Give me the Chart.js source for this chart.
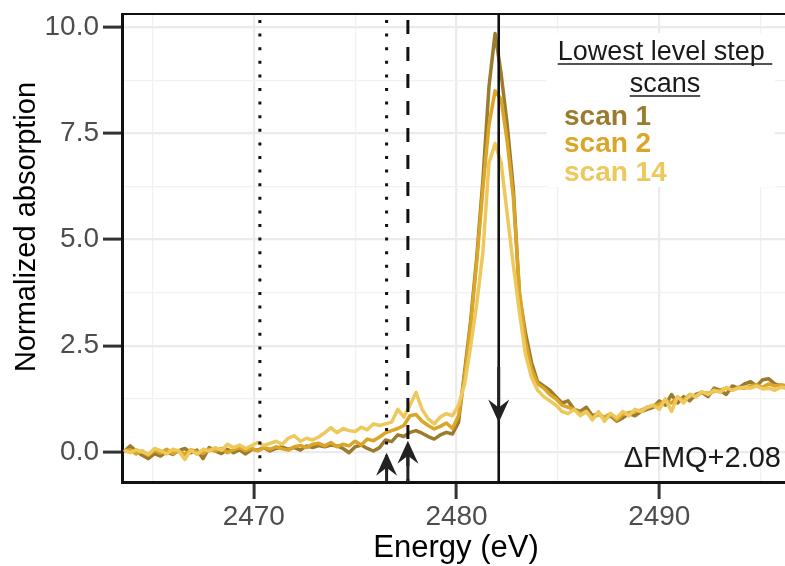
<!DOCTYPE html>
<html>
<head>
<meta charset="utf-8">
<script src="https://cdn.jsdelivr.net/npm/chart.js"></script>
<style>
  html, body { margin: 0; padding: 0; background: #fff; }
  canvas { display: block; }
</style>
</head>
<body>
<canvas id="xanes" width="785" height="566"></canvas>
<script>
// energy grid (eV)
const energy = [
  2463.6, 2463.9, 2464.2, 2464.5, 2464.8, 2465.1, 2465.4, 2465.7, 2466.0, 2466.3,
  2466.6, 2466.9, 2467.2, 2467.5, 2467.8, 2468.1, 2468.4, 2468.7, 2469.0, 2469.3,
  2469.6, 2469.9, 2470.2, 2470.5, 2470.8, 2471.1, 2471.4, 2471.7, 2472.0, 2472.3,
  2472.6, 2472.9, 2473.2, 2473.5, 2473.8, 2474.1, 2474.4, 2474.7, 2475.0, 2475.3,
  2475.6, 2475.9, 2476.2, 2476.5, 2476.8, 2477.1, 2477.4, 2477.7, 2478.0, 2478.3,
  2478.6, 2478.9, 2479.2, 2479.5, 2479.8, 2480.1, 2480.4, 2480.7, 2481.0, 2481.3,
  2481.6, 2481.9, 2482.2, 2482.5, 2482.8, 2483.1, 2483.4, 2483.7, 2484.0, 2484.3,
  2484.6, 2484.9, 2485.2, 2485.5, 2485.8, 2486.1, 2486.4, 2486.7, 2487.0, 2487.3,
  2487.6, 2487.9, 2488.2, 2488.5, 2488.8, 2489.1, 2489.4, 2489.7, 2490.0, 2490.3,
  2490.6, 2490.9, 2491.2, 2491.5, 2491.8, 2492.1, 2492.4, 2492.7, 2493.0, 2493.3,
  2493.6, 2493.9, 2494.2, 2494.5, 2494.8, 2495.1, 2495.4, 2495.7, 2496.0, 2496.3
];

const scan1 = [
  0.0, 0.14, 0.02, -0.08, -0.16, -0.04, -0.1, 0.0, -0.06, 0.03,
  0.08, -0.02, 0.04, -0.16, 0.1, 0.02, -0.04, 0.06, -0.02, 0.05,
  -0.05, 0.06, 0.04, 0.1, 0.02, 0.08, 0.12, 0.06, 0.1, 0.04,
  0.14, 0.1, 0.15, 0.12, 0.16, 0.14, 0.08, -0.02, 0.12, 0.16,
  0.08, 0.02, 0.1, 0.28, 0.24, 0.4, 0.36, 0.46, 0.5, 0.44,
  0.36, 0.3, 0.4, 0.46, 0.42, 0.7, 1.9, 3.1, 4.6, 6.4,
  8.6, 9.85, 8.9, 7.7, 6.2, 3.7, 2.8, 2.1, 1.65, 1.55,
  1.45, 1.3, 1.15, 1.2, 1.0, 0.95, 1.05, 0.85, 0.9, 0.78,
  0.85, 0.72, 0.8, 0.9, 0.85, 0.95, 1.0, 1.05, 1.2, 1.1,
  1.35, 1.15, 1.3, 1.2, 1.35, 1.4, 1.3, 1.5, 1.45, 1.35,
  1.55, 1.5, 1.6, 1.65, 1.55, 1.7, 1.72, 1.6, 1.55, 1.5
];

const scan2 = [
  0.02, 0.05, -0.05, 0.02, -0.08, 0.04, -0.03, 0.06, -0.04, 0.02,
  -0.06, 0.05, 0.0, -0.04, 0.06, 0.02, 0.08, -0.02, 0.05, 0.1,
  0.03, 0.08, 0.02, 0.1, 0.06, 0.12, 0.07, 0.04, 0.12, 0.15,
  0.1, 0.18, 0.2, 0.14, 0.22, 0.12, 0.18, 0.14, 0.25, 0.16,
  0.3, 0.26, 0.35, 0.45, 0.5, 0.55, 0.62, 0.85, 0.88, 0.72,
  0.62, 0.54, 0.6, 0.68, 0.55, 0.85, 1.8, 3.0, 4.5, 6.2,
  7.7, 8.5, 8.3, 7.3, 6.0, 3.8, 2.6, 1.95, 1.6, 1.5,
  1.35, 1.25, 1.1, 1.05, 1.0, 0.9, 0.95, 0.8, 0.88, 0.82,
  0.9, 0.75, 0.88, 0.92, 0.95, 0.98, 1.05, 1.08, 1.12, 1.2,
  1.15, 1.28, 1.22, 1.35, 1.3, 1.4, 1.38, 1.42, 1.45, 1.5,
  1.45, 1.52, 1.5, 1.55, 1.58, 1.52, 1.6, 1.55, 1.58, 1.55
];

const scan14 = [
  0.04, -0.02, 0.05, 0.0, -0.06, 0.08, 0.03, -0.05, 0.06, 0.02,
  -0.18, 0.04, -0.06, 0.06, 0.02, 0.1, 0.04, 0.18, 0.1, 0.16,
  0.08, 0.15, 0.22, 0.15, 0.2, 0.25, 0.18, 0.32, 0.38, 0.25,
  0.32, 0.28, 0.35, 0.45, 0.57, 0.45, 0.55, 0.5, 0.48, 0.58,
  0.52, 0.66, 0.62, 0.66, 0.7, 1.0, 0.82, 1.1, 1.4, 1.0,
  0.78, 0.66, 0.82, 0.9, 0.85, 1.1, 1.6, 2.5, 3.5, 4.7,
  6.8, 7.26, 6.8, 5.6, 4.4, 3.3, 2.3, 1.75, 1.45, 1.3,
  1.2, 1.1, 0.95, 0.9, 1.0, 0.85, 0.95, 0.75, 0.95, 0.72,
  0.9, 0.8, 0.95, 0.85, 1.0, 0.95, 1.05, 1.1, 1.0, 1.25,
  0.95, 1.3, 1.15, 1.35, 1.3, 1.42, 1.35, 1.45, 1.4, 1.52,
  1.45, 1.5, 1.52, 1.5, 1.55, 1.48, 1.5, 1.45, 1.52, 1.5
];

const seriesNames = ["scan 1", "scan 2", "scan 14"];
const seriesColors = ["#9b7b2d", "#dba528", "#eec85a"];

const xMajor = [2470, 2480, 2490];
const xMinor = [2465, 2475, 2485, 2495];
const yMajor = [0, 2.5, 5, 7.5, 10];
const yMinor = [1.25, 3.75, 6.25, 8.75];

// vertical markers (eV): dotted, dotted, dashed, solid
const markerEnergy = [2470.3, 2476.55, 2477.6, 2482.08];
// arrows: energy, start value, end (tip) value
const arrowEnergy = [2476.55, 2477.6, 2482.08];
const arrowFrom = [-0.71, -0.71, 2.0];
const arrowTo = [-0.02, 0.26, 0.69];

const legendTitle = ["Lowest level step ", "scans"];
const panelLabel = "\u0394FMQ+2.08";

const FONT = "'Liberation Sans', Arial, Helvetica, sans-serif";
Chart.defaults.font.family = FONT;

const isIn = (arr, v) => arr.some((a) => Math.abs(a - v) < 1e-6);

const overlay = {
  id: "overlay",
  beforeDatasetsDraw(chart) {
    const ctx = chart.ctx;
    ctx.save();
    ctx.fillStyle = "#ffffff";
    ctx.fillRect(547, 33, 228, 154); // legend box
    ctx.restore();
  },
  afterDatasetsDraw(chart) {
    const { ctx, chartArea: a, scales } = chart;
    const x = scales.x, y = scales.y;
    ctx.save();
    ctx.beginPath();
    ctx.rect(a.left, a.top, a.right - a.left, a.bottom - a.top);
    ctx.clip();

    const dashes = [[3, 10.6], [3, 10.6], [14, 13], []];
    const widths = [3, 3, 3, 2.6];
    markerEnergy.forEach((e, i) => {
      const px = x.getPixelForValue(e);
      ctx.beginPath();
      ctx.strokeStyle = "#111111";
      ctx.lineWidth = widths[i];
      ctx.lineCap = "butt";
      ctx.setLineDash(dashes[i]);
      ctx.lineDashOffset = -6;
      ctx.moveTo(px, a.top);
      ctx.lineTo(px, a.bottom);
      ctx.stroke();
    });
    ctx.setLineDash([]);

    // arrows
    arrowEnergy.forEach((e, i) => {
      const px = x.getPixelForValue(e);
      const y0 = y.getPixelForValue(arrowFrom[i]);
      const y1 = y.getPixelForValue(arrowTo[i]);
      const dir = y1 < y0 ? -1 : 1; // -1 = pointing up
      const len = 23, half = 10.5, notch = 15;
      ctx.strokeStyle = "#222222";
      ctx.fillStyle = "#222222";
      ctx.lineWidth = 3;
      ctx.beginPath();
      ctx.moveTo(px, y0);
      ctx.lineTo(px, y1 - dir * notch);
      ctx.stroke();
      ctx.beginPath();
      ctx.moveTo(px, y1);
      ctx.lineTo(px - half, y1 - dir * len);
      ctx.lineTo(px, y1 - dir * notch);
      ctx.lineTo(px + half, y1 - dir * len);
      ctx.closePath();
      ctx.fill();
    });
    ctx.restore();

    // legend
    ctx.save();
    ctx.fillStyle = "#1a1a1a";
    ctx.strokeStyle = "#1a1a1a";
    ctx.font = "27px " + FONT;
    ctx.textAlign = "center";
    ctx.textBaseline = "alphabetic";
    const cx = 665;
    const baselines = [60, 92];
    legendTitle.forEach((t, i) => {
      ctx.fillText(t, cx, baselines[i]);
      const w = ctx.measureText(t).width;
      ctx.lineWidth = 1.6;
      ctx.beginPath();
      ctx.moveTo(cx - w / 2, baselines[i] + 4);
      ctx.lineTo(cx + w / 2, baselines[i] + 4);
      ctx.stroke();
    });
    ctx.font = "bold 28px " + FONT;
    ctx.textAlign = "left";
    const entryBase = [125, 152, 181];
    seriesNames.forEach((n, i) => {
      ctx.fillStyle = seriesColors[i];
      ctx.fillText(n, 564, entryBase[i]);
    });

    // panel annotation
    ctx.fillStyle = "#1a1a1a";
    ctx.font = "29px " + FONT;
    ctx.textAlign = "right";
    ctx.fillText(panelLabel, 781, 467);
    ctx.restore();
  },
  afterDraw(chart) {
    const { ctx, chartArea: a } = chart;
    ctx.save();
    // top panel border
    ctx.strokeStyle = "#111111";
    ctx.lineWidth = 2;
    ctx.beginPath();
    ctx.moveTo(a.left, a.top);
    ctx.lineTo(a.right, a.top);
    ctx.stroke();
    // axis titles
    ctx.fillStyle = "#000000";
    ctx.font = "31px " + FONT;
    ctx.textAlign = "center";
    ctx.textBaseline = "alphabetic";
    ctx.fillText("Energy (eV)", 456, 557);
    ctx.font = "29px " + FONT;
    ctx.translate(35, 227);
    ctx.rotate(-Math.PI / 2);
    ctx.fillText("Normalized absorption", 0, 0);
    ctx.restore();
  }
};

const datasets = [scan1, scan2, scan14].map((vals, i) => ({
  label: seriesNames[i],
  data: energy.map((e, k) => ({ x: e, y: vals[k] })),
  borderColor: seriesColors[i],
  borderWidth: 3.5,
  pointRadius: 0,
  tension: 0,
  borderJoinStyle: "round",
  order: 3 - i
}));

const gridStyle = (major) => ({
  color: (c) => (c.tick && isIn(major, c.tick.value) ? "#ebebeb" : "#f1f1f1"),
  lineWidth: (c) => (c.tick && isIn(major, c.tick.value) ? 2.2 : 1.3),
  tickColor: (c) => (c.tick && isIn(major, c.tick.value) ? "#333333" : "rgba(0,0,0,0)"),
  tickWidth: 3
});

new Chart(document.getElementById("xanes"), {
  type: "line",
  data: { datasets },
  plugins: [overlay],
  options: {
    responsive: false,
    animation: false,
    devicePixelRatio: 1,
    layout: { padding: { top: 14, right: 0, left: 0, bottom: 0 } },
    plugins: {
      legend: { display: false },
      tooltip: { enabled: false }
    },
    scales: {
      x: {
        type: "linear",
        min: 2463.5,
        max: 2496.2,
        afterBuildTicks: (s) => {
          s.ticks = [...xMajor, ...xMinor].sort((p, q) => p - q).map((v) => ({ value: v }));
        },
        afterFit: (s) => {
          s.height = 84;
          s.paddingLeft = 0;
          s.paddingRight = 0;
        },
        ticks: {
          autoSkip: false,
          maxRotation: 0,
          padding: 1,
          color: "#4d4d4d",
          font: { size: 28 },
          callback: (v) => (isIn(xMajor, v) ? String(v) : "")
        },
        grid: Object.assign({ tickLength: 17 }, gridStyle(xMajor)),
        border: { display: true, color: "#111111", width: 3 }
      },
      y: {
        type: "linear",
        min: -0.71,
        max: 10.31,
        afterBuildTicks: (s) => {
          s.ticks = [...yMajor, ...yMinor].sort((p, q) => p - q).map((v) => ({ value: v }));
        },
        afterFit: (s) => {
          s.width = 122;
          s.paddingTop = 0;
          s.paddingBottom = 0;
        },
        ticks: {
          autoSkip: false,
          padding: 4,
          color: "#4d4d4d",
          font: { size: 28 },
          callback: (v) => (isIn(yMajor, v) ? v.toFixed(1) : "")
        },
        grid: Object.assign({ tickLength: 19 }, gridStyle(yMajor)),
        border: { display: true, color: "#111111", width: 3 }
      }
    }
  }
});
</script>
</body>
</html>
